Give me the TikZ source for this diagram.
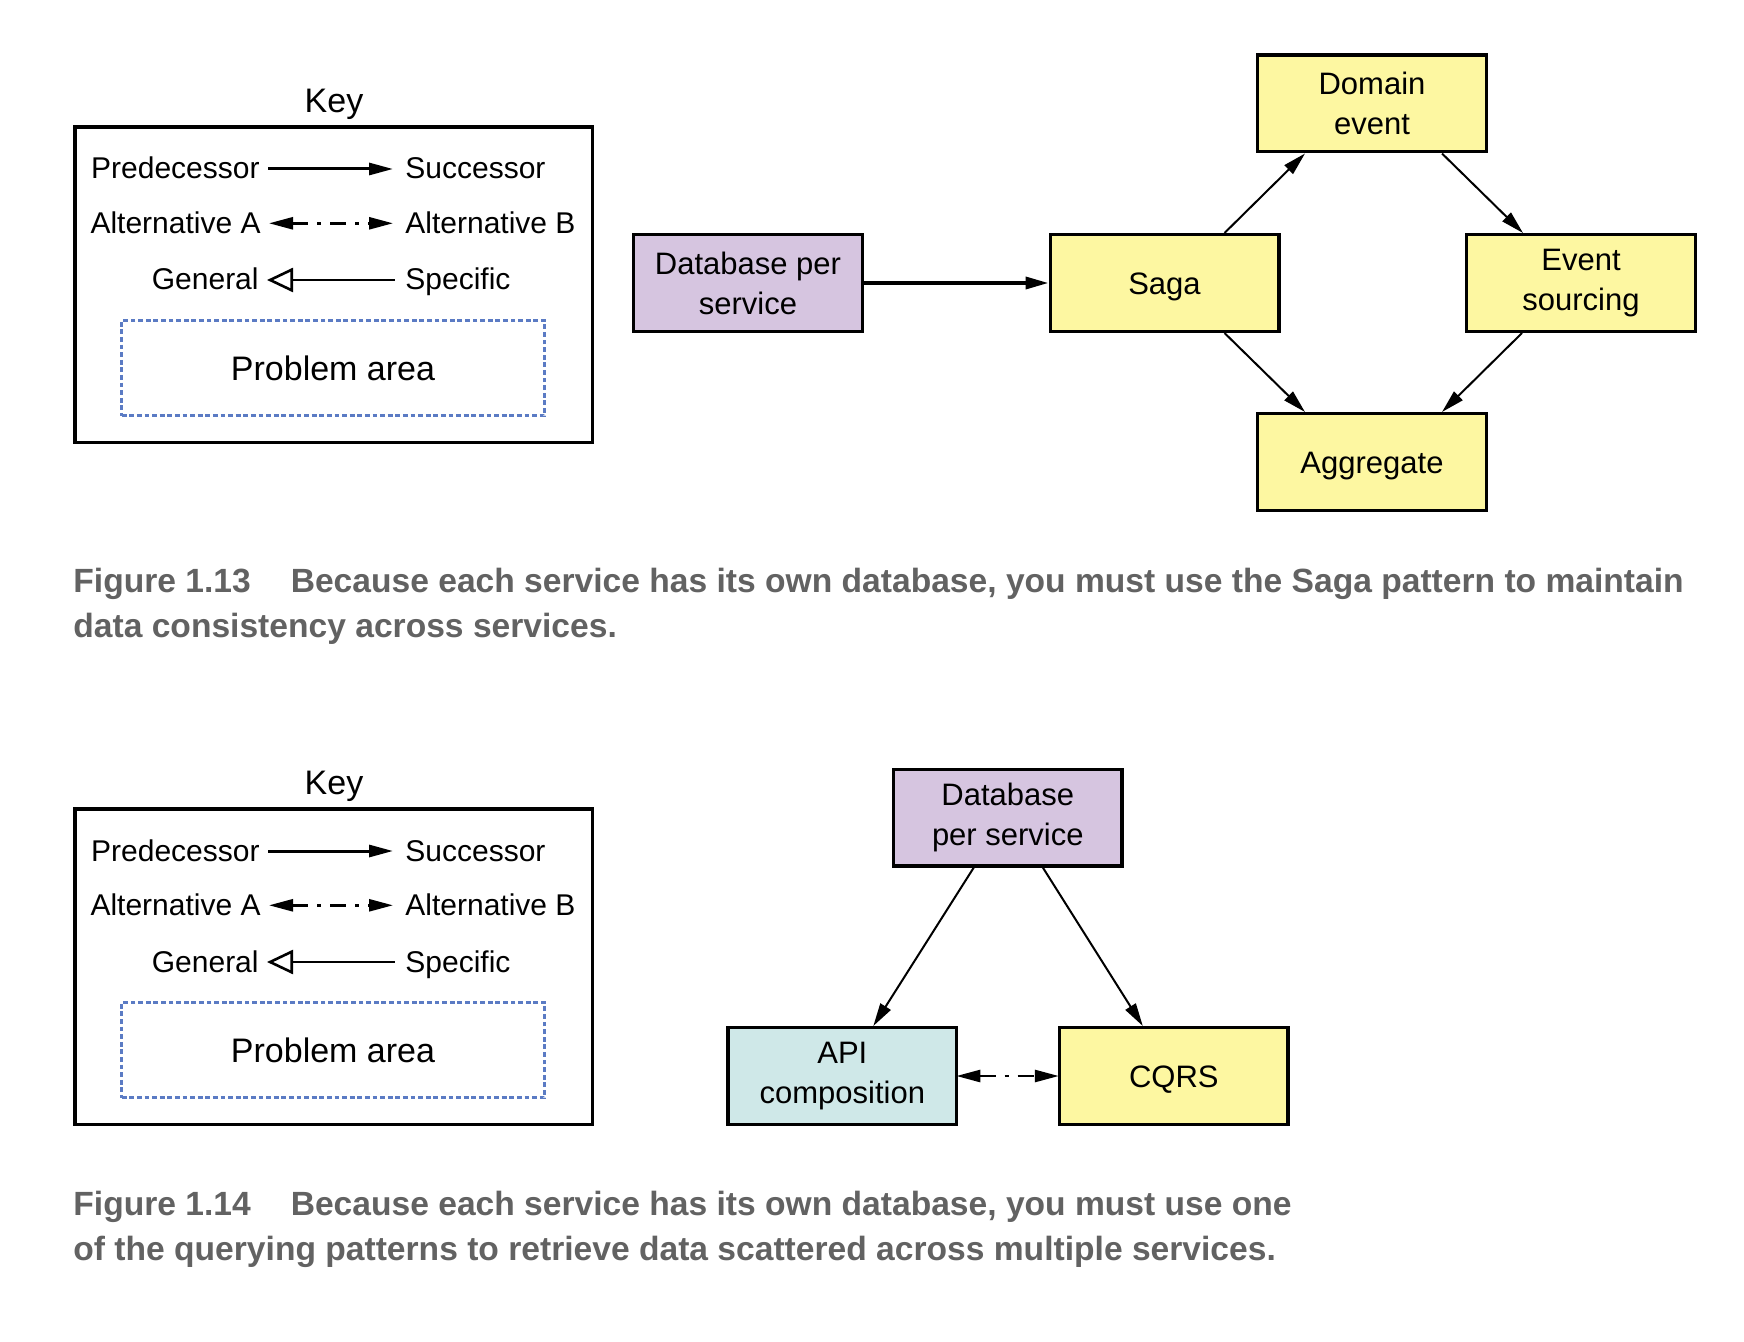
\documentclass[tikz,border=0pt]{standalone}
\usepackage{fontspec}
\setmainfont{Liberation Sans}
\usetikzlibrary{arrows.meta,calc}
\definecolor{sagayellow}{HTML}{FDF7A1}
\definecolor{dbpurple}{HTML}{D6C5E0}
\definecolor{apiteal}{HTML}{CFE8E8}
\definecolor{probblue}{HTML}{5B7BC4}
\definecolor{capgray}{HTML}{626262}

\begin{document}
\begin{tikzpicture}[x=0.5pt, y=-0.5pt,
  box/.style={draw, line width=1.7pt, minimum width=114.3pt, minimum height=48.3pt,
    inner sep=0pt, align=center, font=\fontsize{15.5}{20}\selectfont},
  oneline/.style={text height=11.7pt, text depth=0pt},
  keyframe/.style={draw, line width=1.7pt},
  keytitle/.style={anchor=base, inner sep=0pt, font=\fontsize{17}{20}\selectfont},
  keytext/.style={inner sep=0pt, text height=12pt, text depth=2pt, font=\fontsize{15}{18}\selectfont},
  keyleft/.style={keytext, anchor=base east},
  keyright/.style={keytext, anchor=base west},
  problem/.style={draw=probblue, line width=1.4pt, dash pattern=on 2.4pt off 1.4pt,
    minimum width=211.3pt, minimum height=47.8pt, text height=12pt, text depth=0pt,
    font=\fontsize{17}{20}\selectfont},
  flow/.style={-{Triangle[length=11.5pt,width=6pt]}, line width=1pt},
  keyflow/.style={-{Triangle[length=12pt,width=6pt]}, line width=1.5pt, shorten <=4pt, shorten >=6pt},
  alt/.style={{Triangle[length=12pt,width=6pt]}-{Triangle[length=12pt,width=6pt]},
    line width=1.3pt, dash pattern=on 8pt off 4.5pt on 2pt off 4.5pt},
  general/.style={{Triangle[open,length=13pt,width=12pt]}-, line width=1.3pt, shorten <=4pt, shorten >=5pt},
  caption/.style={anchor=base west, inner sep=0pt, text=capgray, font=\bfseries\fontsize{16.8}{20}\selectfont}]

  \useasboundingbox (0,0) rectangle (1744,1342);

  % Key, once for each figure
  \foreach \k/\dy in {a/0, b/682} {
    \draw[keyframe] (75,127+\dy) rectangle (592.5,442.5+\dy);
    \node[keytitle] (key\k) at (334,112.7+\dy) {Key};
    \node[keyleft] (pred\k) at (260,179+\dy) {Predecessor};
    \node[keyright] (succ\k) at (405,179+\dy) {Successor};
    \node[keyleft] (alta\k) at (261,233.3+\dy) {Alternative A};
    \node[keyright] (altb\k) at (405,233.3+\dy) {Alternative B};
    \node[keyleft] (gen\k) at (259,290+\dy) {General};
    \node[keyright] (spec\k) at (405,290+\dy) {Specific};
    \node[problem] (prob\k) at (333,368+\dy) {Problem area};
    \draw[keyflow] (pred\k) -- (succ\k);
    \draw[alt, shorten <=4pt, shorten >=6pt] (alta\k) -- (altb\k);
    \draw[general] (gen\k) -- (spec\k);
  }

  % Figure 1.13: Saga
  \node[box, fill=dbpurple] (db) at (748,283) {Database per\\service};
  \node[box, oneline, fill=sagayellow] (saga) at (1164.5,283) {Saga};
  \node[box, fill=sagayellow] (domain) at (1372,103.5) {Domain\\event};
  \node[box, fill=sagayellow] (evsrc) at (1581,283) {Event\\sourcing};
  \node[box, oneline, fill=sagayellow] (aggr) at (1372,462) {Aggregate};

  \draw[flow, line width=1.8pt] (db) -- (saga);
  \draw[flow] ([xshift=30pt]saga.north) -- ([xshift=-33.5pt]domain.south);
  \draw[flow] ([xshift=35pt]domain.south) -- ([xshift=-29pt]evsrc.north);
  \draw[flow] ([xshift=30pt]saga.south) -- ([xshift=-33.5pt]aggr.north);
  \draw[flow] ([xshift=-29.5pt]evsrc.south) -- ([xshift=35pt]aggr.north);

  \node[caption] (capa) at (73,592) {Figure 1.13\hspace{20pt}Because each service has its own database, you must use the Saga pattern to maintain};
  \node[caption] (capb) at (73,637.5) {data consistency across services.};

  % Figure 1.14: querying
  \node[box, fill=dbpurple] (dbq) at (1007.8,817.5) {Database\\per service};
  \node[box, fill=apiteal] (api) at (842.3,1076) {API\\composition};
  \node[box, oneline, fill=sagayellow] (cqrs) at (1173.8,1076) {CQRS};

  \draw[flow] ([xshift=-17pt]dbq.south) -- ([xshift=15.5pt]api.north);
  \draw[flow] ([xshift=17.5pt]dbq.south) -- ([xshift=-15.5pt]cqrs.north);
  \draw[alt, shorten <=-1pt, shorten >=-0.5pt] (api) -- (cqrs);

  \node[caption] (capc) at (73,1215) {Figure 1.14\hspace{20pt}Because each service has its own database, you must use one};
  \node[caption] (capd) at (73,1260.5) {of the querying patterns to retrieve data scattered across multiple services.};
\end{tikzpicture}
\end{document}
